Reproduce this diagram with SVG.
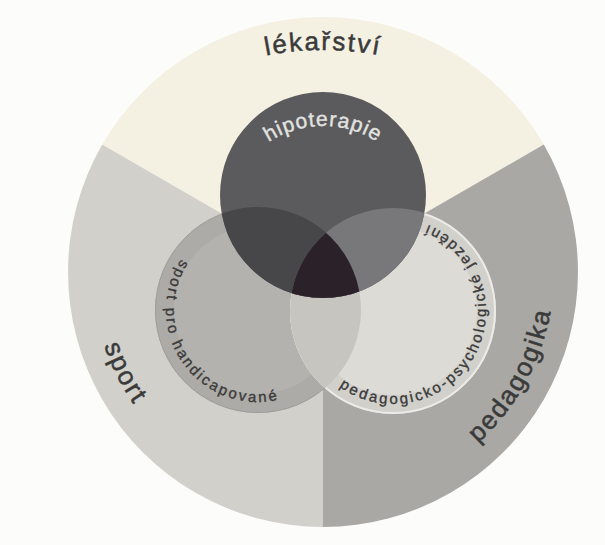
<svg xmlns="http://www.w3.org/2000/svg" width="605" height="545" viewBox="0 0 605 545">
<style>
.lbl{font-family:"Liberation Sans",Arial,Helvetica,sans-serif;fill:#3a3a3a;stroke:#3a3a3a;}
.big{font-size:26px;letter-spacing:2px;stroke-width:0.5px;}
.small{font-size:15px;letter-spacing:2.4px;stroke-width:0.35px;}
.hip{font-family:"Liberation Sans",Arial,Helvetica,sans-serif;font-size:21px;letter-spacing:1px;fill:#e2e2e0;stroke:#e2e2e0;stroke-width:0.4px;}
</style>
<defs>
<clipPath id="cL"><circle cx="258" cy="310" r="103"/></clipPath>
<clipPath id="cR"><circle cx="393" cy="311" r="103"/></clipPath>
<clipPath id="cT"><circle cx="323" cy="195" r="103"/></clipPath>
<path id="pLek" d="M 220.4 68.1 A 300 300 0 0 1 425.6 68.1"/>
<path id="pHip" d="M 236.4 176 A 100 100 0 0 1 409.6 176"/>
<path id="pSport" d="M 92.3 259.9 A 231 231 0 0 0 197.2 465.7"/>
<path id="pPed" d="M 443 469.4 A 231 231 0 0 0 553.9 266.8"/>
<path id="pSph" d="M 187.5 250.9 A 92 92 0 0 0 289.5 396.5"/>
<path id="pPpj" d="M 324 373.3 A 93 93 0 1 0 405.8 218.9"/>
</defs>
<rect width="605" height="545" fill="#fcfcfa"/>
<g id="sector-lekarstvi">
<path d="M 323 272 L 102.2 144.5 A 255 255 0 0 1 543.8 144.5 Z" fill="#f4f1e3"/>
<text class="lbl big"><textPath href="#pLek" startOffset="50%" text-anchor="middle">lékařství</textPath></text>
</g>
<g id="sector-pedagogika">
<path d="M 323 272 L 543.8 144.5 A 255 255 0 0 1 323 527 Z" fill="#a9a8a4"/>
</g>
<g id="sector-sport">
<path d="M 323 272 L 323 527 A 255 255 0 0 1 102.2 144.5 Z" fill="#d2d0ca"/>
</g>
<g id="circle-sport-handicap">
<circle cx="258" cy="310" r="103" fill="#b4b2ae"/>
<circle cx="258" cy="310" r="93" fill="none" stroke="#a8a6a2" stroke-width="18" opacity="0.6"/>
<circle cx="258" cy="310" r="102.5" fill="none" stroke="#9e9c98" stroke-width="1"/>
</g>
<g id="circle-pedagogicko">
<circle cx="393" cy="311" r="103" fill="#dddbd6"/>
<circle cx="393" cy="311" r="93" fill="none" stroke="#cfcdc8" stroke-width="18" opacity="0.8"/>
<circle cx="393" cy="311" r="102" fill="none" stroke="#ecebe7" stroke-width="2"/>
</g>
<g id="lens-bottom">
<circle cx="393" cy="311" r="103" fill="#c6c5c0" clip-path="url(#cL)"/>
</g>
<g id="circle-hipoterapie">
<circle cx="323" cy="195" r="103" fill="#5b5b5d"/>
</g>
<g id="overlap-top-left">
<circle cx="258" cy="310" r="103" fill="#47474a" clip-path="url(#cT)"/>
</g>
<g id="overlap-top-right">
<circle cx="393" cy="311" r="103" fill="#78787a" clip-path="url(#cT)"/>
</g>
<g id="overlap-all">
<g clip-path="url(#cT)"><circle cx="393" cy="311" r="103" fill="#2b2229" clip-path="url(#cL)"/></g>
</g>
<g id="labels">
<text class="hip"><textPath href="#pHip" startOffset="50%" text-anchor="middle">hipoterapie</textPath></text>
<text class="lbl big"><textPath href="#pSport" startOffset="50%" text-anchor="middle">sport</textPath></text>
<text class="lbl big"><textPath href="#pPed" startOffset="50%" text-anchor="middle">pedagogika</textPath></text>
<text class="lbl small"><textPath href="#pSph" startOffset="50%" text-anchor="middle">sport pro handicapované</textPath></text>
<text class="lbl small"><textPath href="#pPpj" startOffset="50%" text-anchor="middle">pedagogicko-psychologické jezdění</textPath></text>
</g>
</svg>
